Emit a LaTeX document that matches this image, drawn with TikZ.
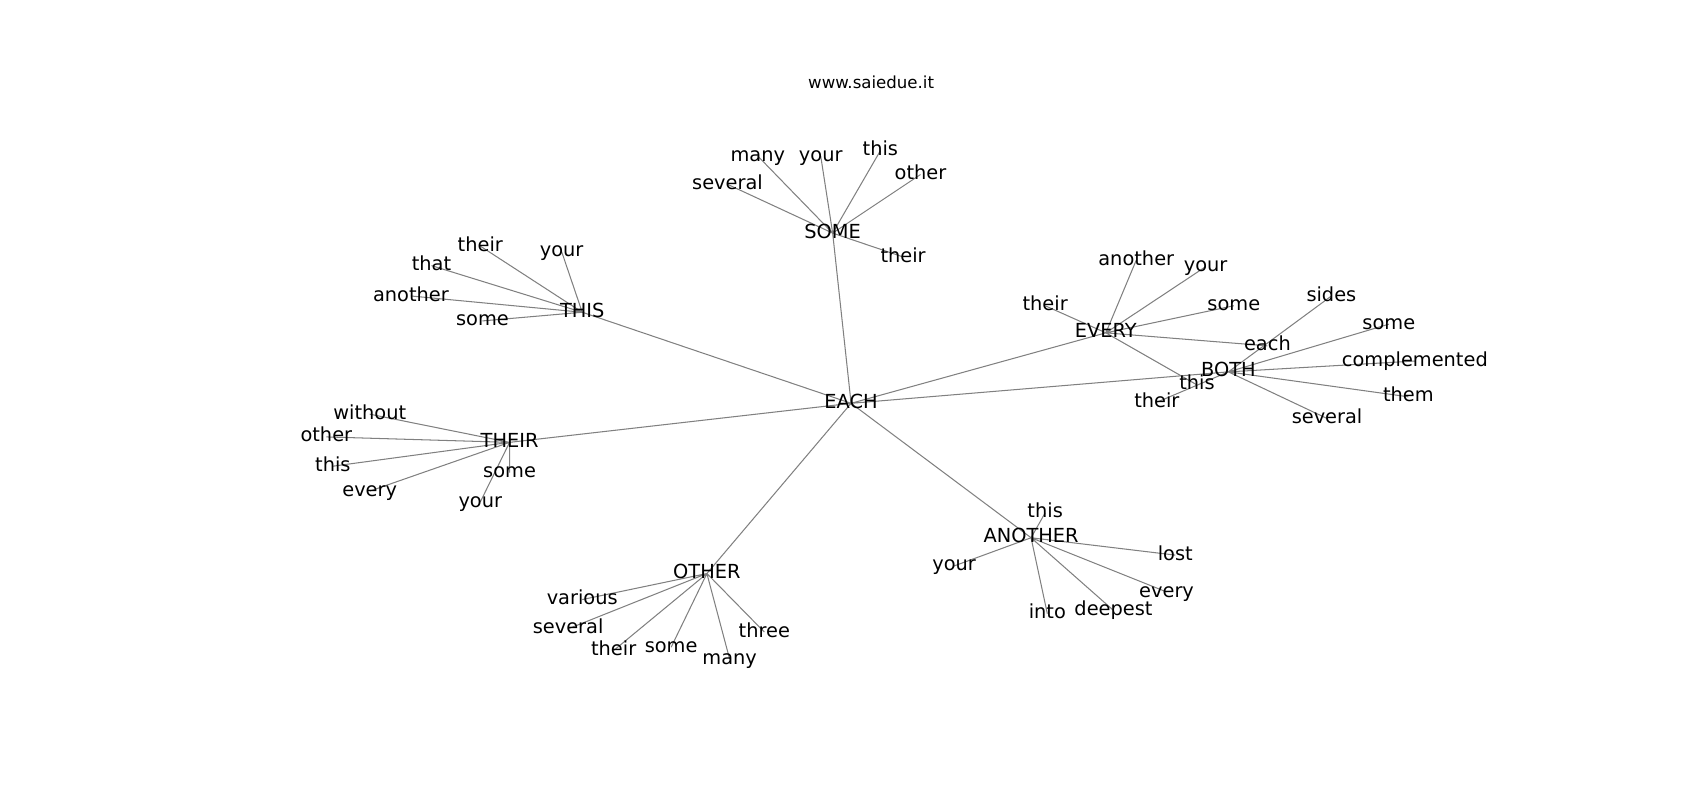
\documentclass[tikz,border=0pt]{standalone}
\usepackage{fontspec}
\setmainfont{DejaVu Sans}
\usetikzlibrary{backgrounds}
\tikzset{
  word/.style={inner sep=0pt, text height=10.6pt, text depth=3.3pt, font=\fontsize{14}{17}\selectfont},
  site/.style={inner sep=0pt, text height=9.1pt, text depth=2.8pt, font=\fontsize{12}{14}\selectfont},
  link/.style={gray, line width=0.75pt},
}

\begin{document}
\begin{tikzpicture}[x=0.27539mm, y=-0.27539mm]
  \useasboundingbox (0,0) rectangle (1568,738);
  \node[site] (title) at (803.5,78) {www.saiedue.it};
  % hubs
  \node[word] (each)    at (785,372) {EACH};
  \node[word] (some)    at (768,215) {SOME};
  \node[word] (this)    at (537,288) {THIS};
  \node[word] (every)   at (1020,307) {EVERY};
  \node[word] (both)    at (1133,343) {BOTH};
  \node[word] (their)   at (470,408) {THEIR};
  \node[word] (other)   at (652,529) {OTHER};
  \node[word] (another) at (951,496) {ANOTHER};
  % SOME
  \node[word] (some-several) at (671,170) {several};
  \node[word] (some-many)    at (699,144) {many};
  \node[word] (some-your)    at (757,144) {your};
  \node[word] (some-this)    at (812,139) {this};
  \node[word] (some-other)   at (849,161) {other};
  \node[word] (some-their)   at (833,237) {their};
  % THIS
  \node[word] (this-their)   at (443,227) {their};
  \node[word] (this-that)    at (398,245) {that};
  \node[word] (this-your)    at (518,232) {your};
  \node[word] (this-another) at (379,273) {another};
  \node[word] (this-some)    at (445,296) {some};
  % EVERY
  \node[word] (every-another) at (1048,240) {another};
  \node[word] (every-your)    at (1112,246) {your};
  \node[word] (every-their)   at (964,282) {their};
  \node[word] (every-some)    at (1138,282) {some};
  \node[word] (every-each)    at (1169,319) {each};
  \node[word] (every-this)    at (1104,355) {this};
  % BOTH
  \node[word] (both-sides)   at (1228,273) {sides};
  \node[word] (both-some)    at (1281,299) {some};
  \node[word] (both-compl)   at (1305,333) {complemented};
  \node[word] (both-them)    at (1299,366) {them};
  \node[word] (both-several) at (1224,386) {several};
  \node[word] (both-their)   at (1067,371) {their};
  % THEIR
  \node[word] (their-without) at (341,382) {without};
  \node[word] (their-other)   at (301,403) {other};
  \node[word] (their-this)    at (307,430) {this};
  \node[word] (their-every)   at (341,453) {every};
  \node[word] (their-some)    at (470,436) {some};
  \node[word] (their-your)    at (443,463) {your};
  % OTHER
  \node[word] (other-various) at (537,553) {various};
  \node[word] (other-several) at (524,580) {several};
  \node[word] (other-their)   at (566,600) {their};
  \node[word] (other-some)    at (619,597) {some};
  \node[word] (other-many)    at (673,608) {many};
  \node[word] (other-three)   at (705,583) {three};
  % ANOTHER
  \node[word] (another-this)    at (964,473) {this};
  \node[word] (another-your)    at (880,522) {your};
  \node[word] (another-lost)    at (1084,512) {lost};
  \node[word] (another-every)   at (1076,546) {every};
  \node[word] (another-into)    at (966,566) {into};
  \node[word] (another-deepest) at (1027,563) {deepest};
  \begin{scope}[on background layer]
    \draw[link] (each.center) -- (some.center) (each.center) -- (this.center)
      (each.center) -- (every.center) (each.center) -- (both.center)
      (each.center) -- (their.center) (each.center) -- (other.center)
      (each.center) -- (another.center);
    \draw[link] (some.center) -- (some-several.center) (some.center) -- (some-many.center)
      (some.center) -- (some-your.center) (some.center) -- (some-this.center)
      (some.center) -- (some-other.center) (some.center) -- (some-their.center);
    \draw[link] (this.center) -- (this-their.center) (this.center) -- (this-that.center)
      (this.center) -- (this-your.center) (this.center) -- (this-another.center)
      (this.center) -- (this-some.center);
    \draw[link] (every.center) -- (every-another.center) (every.center) -- (every-your.center)
      (every.center) -- (every-their.center) (every.center) -- (every-some.center)
      (every.center) -- (every-each.center) (every.center) -- (every-this.center);
    \draw[link] (both.center) -- (both-sides.center) (both.center) -- (both-some.center)
      (both.center) -- (both-compl.center) (both.center) -- (both-them.center)
      (both.center) -- (both-several.center) (both.center) -- (both-their.center);
    \draw[link] (their.center) -- (their-without.center) (their.center) -- (their-other.center)
      (their.center) -- (their-this.center) (their.center) -- (their-every.center)
      (their.center) -- (their-some.center) (their.center) -- (their-your.center);
    \draw[link] (other.center) -- (other-various.center) (other.center) -- (other-several.center)
      (other.center) -- (other-their.center) (other.center) -- (other-some.center)
      (other.center) -- (other-many.center) (other.center) -- (other-three.center);
    \draw[link] (another.center) -- (another-this.center) (another.center) -- (another-your.center)
      (another.center) -- (another-lost.center) (another.center) -- (another-every.center)
      (another.center) -- (another-into.center) (another.center) -- (another-deepest.center);
  \end{scope}
\end{tikzpicture}
\end{document}
